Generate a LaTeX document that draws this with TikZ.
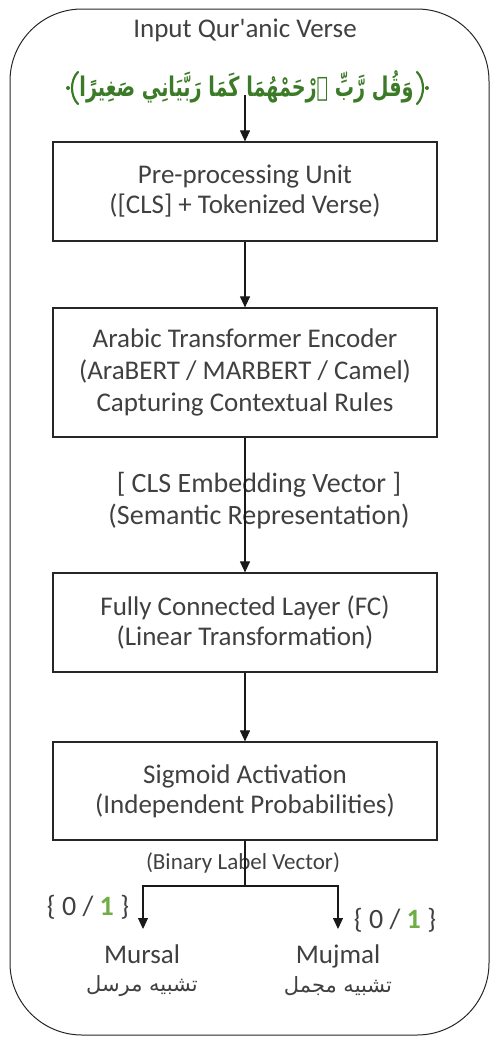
\documentclass[tikz,border=0pt]{standalone}
\usepackage{fontspec}
\usepackage{graphicx}
\setmainfont{Carlito}
\newfontfamily\arabicfont[Script=Arabic]{DejaVu Sans}
\TeXXeTstate=1
\usetikzlibrary{arrows.meta}
\definecolor{txt}{HTML}{404040}
\definecolor{versegreen}{HTML}{3B7A27}
\definecolor{onegreen}{HTML}{70AD47}
\begin{document}
\begin{tikzpicture}[x=1pt,y=-1pt,
  box/.style={draw=black!85, line width=1.2pt, minimum width=384pt, inner sep=0pt, align=center, text=txt, font=\fontsize{27}{30}\selectfont},
  arr/.style={draw=black!90, line width=1.1pt, -{Triangle[length=11pt,width=10pt]}},
  lab/.style={text=txt, align=center, inner sep=0pt, font=\fontsize{27}{31}\selectfont},
  arlab/.style={text=txt, inner sep=0pt, font=\arabicfont\fontsize{21}{24}\selectfont},
  bits/.style={text=txt, inner sep=0pt, font=\fontsize{28}{30}\selectfont},
  orn/.style={draw=versegreen, line width=2.2pt, line cap=round},
]
\useasboundingbox (0,0) rectangle (491,1039);
\draw[line width=1pt, draw=black!85, rounded corners=72pt] (10,9) rectangle (489,1035);

\node[lab] (title) at (245,30) {Input Qur\textquotesingle anic Verse};
\node[inner sep=0pt, text=versegreen] (verse) at (246.5,87)
  {\resizebox*{334pt}{33pt}{\arabicfont\bfseries\beginR وَقُل رَّبِّ ٱرْحَمْهُمَا كَمَا رَبَّيَانِي صَغِيرًا\endR}};
% ornate brackets of the verse
\draw[orn] (78,72) .. controls (70,80) and (70,96) .. (78,104);
\fill[versegreen] (68,88) circle (2pt);
\draw[orn] (417,72) .. controls (425,80) and (425,96) .. (417,104);
\fill[versegreen] (427,88) circle (2pt);

\node[box, minimum height=99pt] (pre) at (245,191.5) {Pre-processing Unit\\([CLS] + Tokenized Verse)};
\node[box, minimum height=129pt, font=\fontsize{27}{32}\selectfont] (enc) at (245,372.5) {Arabic Transformer Encoder\\(AraBERT / MARBERT / Camel)\\Capturing Contextual Rules};
\node[lab, font=\fontsize{28}{32}\selectfont] (cls) at (259,501) {[ CLS Embedding Vector ]\\(Semantic Representation)};
\node[box, minimum height=99pt] (fc) at (245,622.5) {Fully Connected Layer (FC)\\(Linear Transformation)};
\node[box, minimum height=98pt] (sig) at (245,791) {Sigmoid Activation\\(Independent Probabilities)};
\node[text=txt, inner sep=0pt, font=\fontsize{23}{25}\selectfont] (blv) at (243,863) {(Binary Label Vector)};

\node[bits] (bitsl) at (88,907) {\{ 0 / \textcolor{onegreen}{\textbf{1}} \}};
\node[bits] (bitsr) at (395,920) {\{ 0 / \textcolor{onegreen}{\textbf{1}} \}};

\node[lab, anchor=base] (mursal) at (142,963) {Mursal};
\node[lab, anchor=base] (mujmal) at (338,963) {Mujmal};
\node[arlab] (mursalar) at (142,986) {\beginR تشبيه مرسل\endR};
\node[arlab] (mujmalar) at (338,986) {\beginR تشبيه مجمل\endR};

\coordinate (vstart) at (245,95);
\coordinate (split) at (245,886);
\coordinate (lend) at (143,929);
\coordinate (rend) at (338,929);

\draw[arr] (vstart) -- (pre.north);
\draw[arr] (pre.south) -- (enc.north);
\draw[arr] (enc.south) -- (fc.north);
\draw[arr] (fc.south) -- (sig.north);
\draw[line width=1.1pt, draw=black!90] (sig.south) -- (split);
\draw[arr] (split) -| (lend);
\draw[arr] (split) -| (rend);
\end{tikzpicture}
\end{document}
